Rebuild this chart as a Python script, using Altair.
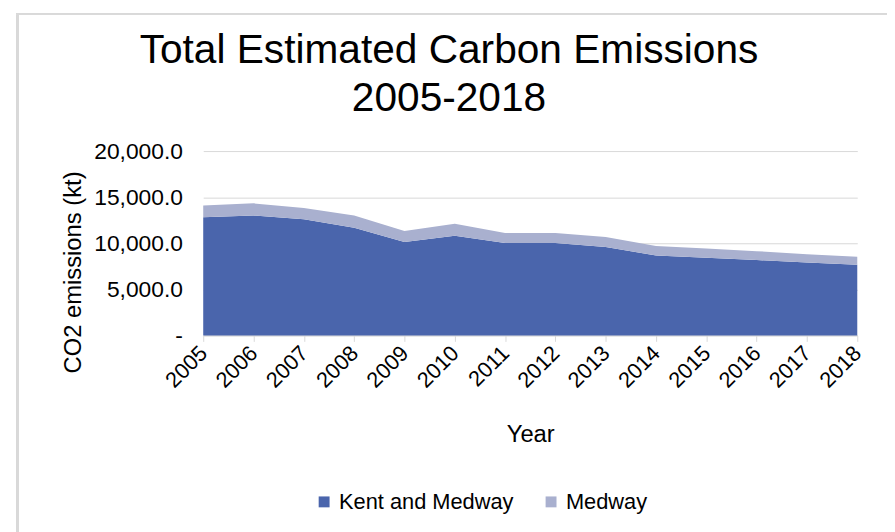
import altair as alt
import pandas as pd

years = list(range(2005, 2019))
kent_and_medway = [12825, 13008, 12610, 11685, 10137, 10825, 10030, 10030, 9600, 8675, 8418, 8170, 7923, 7665]
medway = [1258, 1322, 1225, 1323, 1183, 1290, 1075, 1075, 1075, 1032, 1010, 968, 892, 860]
series_names = ["Kent and Medway", "Medway"]
y_ticks = [0, 5000, 10000, 15000, 20000]
title_lines = ["Total Estimated Carbon Emissions", "2005-2018"]

rows = []
for i, y in enumerate(years):
    rows.append({"Year": y, "Series": series_names[0], "Value": kent_and_medway[i], "ord": 0})
    rows.append({"Year": y, "Series": series_names[1], "Value": medway[i], "ord": 1})
df = pd.DataFrame(rows)

FONT = "Liberation Sans"

area = alt.Chart(df).mark_area(opacity=1).encode(
    x=alt.X("Year:Q", scale=alt.Scale(domain=[2005, 2018], nice=False, zero=False),
            axis=alt.Axis(values=years, format="d", labelAngle=-45, labelAlign="right",
                          labelBaseline="middle", labelFontSize=22, labelPadding=8,
                          title="Year", titleFontSize=24, titleFontWeight="normal",
                          titlePadding=32, grid=False, domainColor="#D9D9D9",
                          tickColor="#D9D9D9", tickSize=6, labelColor="#000000",
                          titleColor="#000000", labelFont=FONT, titleFont=FONT)),
    y=alt.Y("Value:Q", stack="zero", scale=alt.Scale(domain=[0, 20000], nice=False),
            axis=alt.Axis(values=y_ticks,
                          labelExpr="datum.value == 0 ? '-' : format(datum.value, ',.1f')",
                          labelFontSize=23, labelPadding=21, title="CO2 emissions  (kt)",
                          titleFontSize=24, titleFontWeight="normal", titleColor="#000000",
                          labelColor="#000000", gridColor="#D9D9D9", domain=False, ticks=False,
                          labelFont=FONT, titleFont=FONT, titleY=122, titlePadding=8)),
    color=alt.Color("Series:N", scale=alt.Scale(domain=series_names, range=["#4A65AC", "#A9B0CF"]),
                    legend=alt.Legend(title=None, orient="none", legendX=111, legendY=343,
                                      direction="horizontal", symbolType="square", symbolSize=121,
                                      labelFontSize=22, labelFont=FONT, labelColor="#000000",
                                      labelLimit=0, columnPadding=26, labelOffset=4,
                                      symbolStrokeWidth=0)),
    order=alt.Order("ord:Q", sort="ascending"),
)

border = alt.Chart(df).mark_rect(fill=None, stroke="#D9D9D9", strokeWidth=1.5).encode(
    x=alt.value(-187.5), x2=alt.value(720), y=alt.value(-138.5), y2=alt.value(420)
)

title_df = pd.DataFrame({"line": title_lines, "i": [0, 1]})
title1 = alt.Chart(title_df).transform_filter("datum.i == 0").mark_text(
    fontSize=41, font=FONT, color="#000000", align="center", baseline="alphabetic"
).encode(text="line:N", x=alt.value(248), y=alt.value(-89))
title2 = alt.Chart(title_df).transform_filter("datum.i == 1").mark_text(
    fontSize=41, font=FONT, color="#000000", align="center", baseline="alphabetic"
).encode(text="line:N", x=alt.value(248), y=alt.value(-40))

chart = alt.layer(border, area, title1, title2).properties(
    width=660, height=186,
    autosize=alt.AutoSizeParams(type="none"),
    padding={"left": 197, "top": 142, "right": 30, "bottom": 196},
).configure(background="white").configure_view(strokeWidth=0, stroke="transparent")

chart.save("out.html", embed_options={"renderer": "svg", "actions": False})
